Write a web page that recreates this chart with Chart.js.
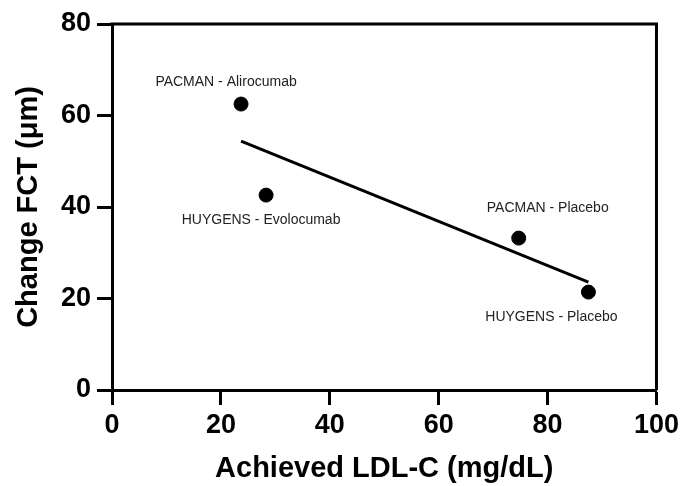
<!DOCTYPE html>
<html>
<head>
<meta charset="utf-8">
<script src="https://cdn.jsdelivr.net/npm/chart.js@4.4.1/dist/chart.umd.min.js"></script>
<style>
    html,body{margin:0;padding:0;background:#fff;}
    #wrap{width:683px;height:486px;}
</style>
</head>
<body>
<div id="wrap"><canvas id="fctChart" width="683" height="486"></canvas></div>
<script>
// trial data
const studies=["PACMAN - Alirocumab","HUYGENS - Evolocumab","PACMAN - Placebo","HUYGENS - Placebo"];
const ldl=[23.7,28.3,74.7,87.5];
const fct=[62.5,42.6,33.2,21.4];

// regression line end points
const fitX=[23.7,87.5];
const fitY=[54.4,23.6];

const xTicks=[0,20,40,60,80,100];
const yTicks=[0,20,40,60,80];

//------------------------
// label offsets (px) per study, and frame
//------------------------
const labelOffsets=[[-15,-22],[-5,25],[29,-30],[-37,25]];

const studyLabels={
    id:"studyLabels",
    afterDatasetsDraw(chart){
        const ctx=chart.ctx;
        const meta=chart.getDatasetMeta(1);
        ctx.save();
        ctx.font="14px 'Liberation Sans', Arial, sans-serif";
        ctx.fillStyle="#222";
        ctx.textAlign="center";
        ctx.textBaseline="middle";
        meta.data.forEach((pt,i)=>{
            ctx.fillText(studies[i],pt.x+labelOffsets[i][0],pt.y+labelOffsets[i][1]);
        });
        ctx.restore();
    }
};

const frame={
    id:"frame",
    afterDraw(chart){
        const a=chart.chartArea;
        const ctx=chart.ctx;
        ctx.save();
        ctx.strokeStyle="#000";
        ctx.lineWidth=3;
        ctx.beginPath();
        ctx.moveTo(a.left-1.5,a.top);
        ctx.lineTo(a.right,a.top);
        ctx.lineTo(a.right,a.bottom);
        ctx.stroke();
        ctx.restore();
    }
};

const tickFont={family:"'Liberation Sans', Arial",size:27,weight:"bold"};
const titleFont={family:"'Liberation Sans', Arial",size:29,weight:"bold"};

new Chart(document.getElementById("fctChart"),{
    type:"scatter",
    data:{
        datasets:[
            {
                data:fitX.map((x,i)=>({x:x,y:fitY[i]})),
                showLine:true,
                borderColor:"#000",
                borderWidth:3,
                pointRadius:0,
                order:2
            },
            {
                data:ldl.map((x,i)=>({x:x,y:fct[i]})),
                backgroundColor:"#000",
                borderColor:"#000",
                pointRadius:7,
                pointHoverRadius:7,
                order:1
            }
        ]
    },
    options:{
        responsive:false,
        animation:false,
        layout:{padding:{top:24,right:26,bottom:0,left:0}},
        plugins:{legend:{display:false},tooltip:{enabled:false}},
        scales:{
            x:{
                type:"linear",
                min:0,max:100,
                afterBuildTicks(scale){scale.ticks=xTicks.map(v=>({value:v}));},
                afterFit(scale){scale.height=96;},
                ticks:{color:"#000",font:tickFont,padding:4,maxRotation:0},
                grid:{drawOnChartArea:false,tickLength:15,tickWidth:3,color:"#000"},
                border:{display:true,width:3,color:"#000"},
                title:{display:true,text:"Achieved LDL-C (mg/dL)",color:"#000",font:titleFont,padding:{top:0,bottom:0}}
            },
            y:{
                min:0,max:80,
                afterBuildTicks(scale){scale.ticks=yTicks.map(v=>({value:v}));},
                afterFit(scale){scale.width=112;},
                ticks:{color:"#000",font:tickFont,padding:6},
                grid:{drawOnChartArea:false,tickLength:15,tickWidth:3,color:"#000"},
                border:{display:true,width:3,color:"#000"},
                title:{display:true,text:"Change FCT (\u03bcm)",color:"#000",font:titleFont,padding:{top:12,bottom:0}}
            }
        }
    },
    plugins:[studyLabels,frame]
});
</script>
</body>
</html>
